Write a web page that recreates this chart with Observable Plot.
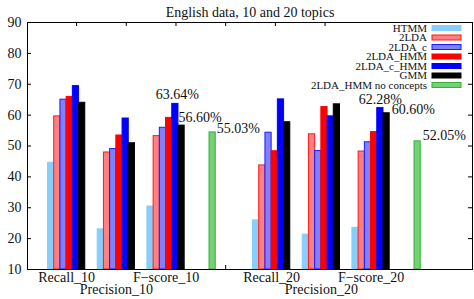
<!DOCTYPE html>
<html><head><meta charset="utf-8">
<script src="https://cdn.jsdelivr.net/npm/d3@7"></script>
<script src="https://cdn.jsdelivr.net/npm/@observablehq/plot@0.6"></script>
<style>
html,body{margin:0;padding:0;background:#fff;}
#chart{width:474px;height:299px;overflow:hidden;}
</style></head><body><div id="chart"></div>
<script>
// ---------- data ----------
const title = "English data, 10 and 20 topics";
const categories = ["Recall_10", "Precision_10", "F\u2212score_10", "Recall_20", "Precision_20", "F\u2212score_20"];
const seriesNames = ["HTMM", "2LDA", "2LDA_c", "2LDA_HMM", "2LDA_c_HMM", "GMM", "2LDA_HMM no concepts"];
const htmm      = [44.6, 23.0, 30.4, 25.9, 21.3, 23.5];
const lda       = [59.6, 47.9, 53.2, 43.7, 53.8, 48.2];
const ldaC      = [65.0, 49.0, 55.9, 54.3, 48.4, 51.2];
const ldaHmm    = [65.9, 53.4, 59.1, 48.3, 62.6, 54.5];
const ldaCHmm   = [69.4, 58.9, 63.64, 65.1, 59.6, 62.28];
const gmm       = [64.0, 50.9, 56.60, 57.7, 63.5, 60.60];
const noConcepts = [54.4, 51.5];          // one bar per topic block (10, 20)
const yTicks = [10, 20, 30, 40, 50, 60, 70, 80, 90];
const pctText   = ["63.64%", "56.60%", "55.03%", "62.28%", "60.60%", "52.05%"];
const pctSeries = ["2LDA_c_HMM", "GMM", "2LDA_HMM no concepts", "2LDA_c_HMM", "GMM", "2LDA_HMM no concepts"];
const pctBlock  = [0, 0, 0, 1, 1, 1];     // which topic block the label belongs to

// ---------- styles ----------
const fillColors   = ["#87cefa", "#ff8080", "#8080ff", "#ff0000", "#0000ff", "#000000", "#74d174"];
const strokeColors = ["#87cefa", "#ff1a1a", "#1a1aff", "#ff0000", "#0000ff", "#000000", "#36b036"];
const FONT = "'Liberation Serif', 'Times New Roman', serif";

// ---------- layout (gnuplot-like slot units, one slot = one bar) ----------
const W = 474, H = 299;
const M = {top: 22, right: 2, bottom: 30, left: 27};
const xDomain = [-3.3, 68.33];
const yDomain = [10, 90];
const BLOCK = 33, STRIDE = 8, GREEN_OFF = 26, TICK_OFF = 4.6;
const slotPx = (W - M.left - M.right) / (xDomain[1] - xDomain[0]);
const unitPx = (H - M.top - M.bottom) / (yDomain[1] - yDomain[0]);

const seriesValues = [htmm, lda, ldaC, ldaHmm, ldaCHmm, gmm];
const rows = [];
seriesValues.forEach((vals, i) => vals.forEach((v, j) => {
  const block = Math.floor(j / 3);
  rows.push({series: seriesNames[i], si: i, block, cat: j,
             slot: block * BLOCK + (j % 3) * STRIDE + i, value: v});
}));
noConcepts.forEach((v, b) => rows.push({series: seriesNames[6], si: 6, block: b, cat: -1,
             slot: b * BLOCK + GREEN_OFF, value: v}));

const catRows = categories.map((c, j) => ({
  name: c, center: Math.floor(j / 3) * BLOCK + (j % 3) * STRIDE + 3, row: j % 3 === 1 ? 2 : 1
}));
const xTicks = d3.range(6).map(k => TICK_OFF + STRIDE * k);

const labelRows = pctText.map((t, k) => {
  const r = rows.find(d => d.series === pctSeries[k] && d.block === pctBlock[k] &&
                      (d.si === 6 || d.cat % 3 === 2));
  return {text: t, ...r};
});
const labelStyle = [
  {textAnchor: "middle", at: 0.5, dx: 2, dy: -9},
  {textAnchor: "start",  at: 0,   dx: 0, dy: -8},
  {textAnchor: "start",  at: 1,   dx: 1, dy: -4},
  {textAnchor: "middle", at: 0.5, dx: 0, dy: -9},
  {textAnchor: "start",  at: 1,   dx: 2, dy: -4},
  {textAnchor: "start",  at: 1,   dx: 2, dy: -6}
];

const tickLenX = 4 / slotPx, tickLenY = 4 / unitPx;

const marks = [
  // inward ticks (drawn beneath bars)
  Plot.ruleX(xTicks, {x: d => d, y1: yDomain[1], y2: yDomain[1] - tickLenY, stroke: "#000"}),
  Plot.ruleX(xTicks, {x: d => d, y1: yDomain[0], y2: yDomain[0] + tickLenY, stroke: "#000"}),
  Plot.ruleY(yTicks, {y: d => d, x1: xDomain[0], x2: xDomain[0] + tickLenX, stroke: "#000"}),
  Plot.ruleY(yTicks, {y: d => d, x1: xDomain[1], x2: xDomain[1] - tickLenX, stroke: "#000"}),
  // bars, one mark per series so each keeps its own border colour
  ...seriesNames.map((s, i) => Plot.rectY(rows.filter(d => d.si === i), {
    x1: "slot", x2: d => d.slot + 1, y1: yDomain[0], y2: "value",
    fill: "series", stroke: strokeColors[i], strokeWidth: 1
  })),
  // percentage labels
  ...labelRows.map((d, k) => Plot.text([d], {
    x: r => r.slot + labelStyle[k].at, y: "value", text: "text",
    textAnchor: labelStyle[k].textAnchor, dx: labelStyle[k].dx, dy: labelStyle[k].dy,
    fontSize: 14, fill: "#111"
  })),
  // category labels (two alternating rows)
  Plot.text(catRows.filter(d => d.row === 1), {x: "center", text: "name", frameAnchor: "bottom", dy: 12, fontSize: 14, fill: "#111"}),
  Plot.text(catRows.filter(d => d.row === 2), {x: "center", text: "name", frameAnchor: "bottom", dy: 24, fontSize: 14, fill: "#111"}),
  // title
  Plot.text([title], {frameAnchor: "top", dy: -15, fontSize: 14, fill: "#111"}),
  Plot.frame({stroke: "#000"})
];

const svg = Plot.plot({
  width: W, height: H,
  marginTop: M.top, marginRight: M.right, marginBottom: M.bottom, marginLeft: M.left,
  style: {fontFamily: FONT, fontSize: "14px", color: "#111", background: "#fff"},
  x: {domain: xDomain, axis: null},
  y: {domain: yDomain, ticks: yTicks.length - 1, tickSize: 0, tickPadding: 6, label: null},
  color: {type: "ordinal", domain: seriesNames, range: fillColors},
  marks
});
document.getElementById("chart").appendChild(svg);

// ---------- key (inside the plot, top right) ----------
const key = d3.select(svg).append("g").attr("font-family", FONT).attr("font-size", 11);
const keyTextX = 427, keySwX = 432, keySwW = 29, keySwH = 5, keyY0 = 28, keyStep = 9.5;
seriesNames.forEach((s, i) => {
  const y = keyY0 + i * keyStep;
  key.append("text").attr("x", keyTextX).attr("y", y).attr("dy", "0.32em")
     .attr("text-anchor", "end").attr("fill", "#111").text(s);
  key.append("rect").attr("x", keySwX).attr("y", y - keySwH / 2)
     .attr("width", keySwW).attr("height", keySwH)
     .attr("fill", fillColors[i]).attr("stroke", strokeColors[i]);
});
</script>
</body></html>
